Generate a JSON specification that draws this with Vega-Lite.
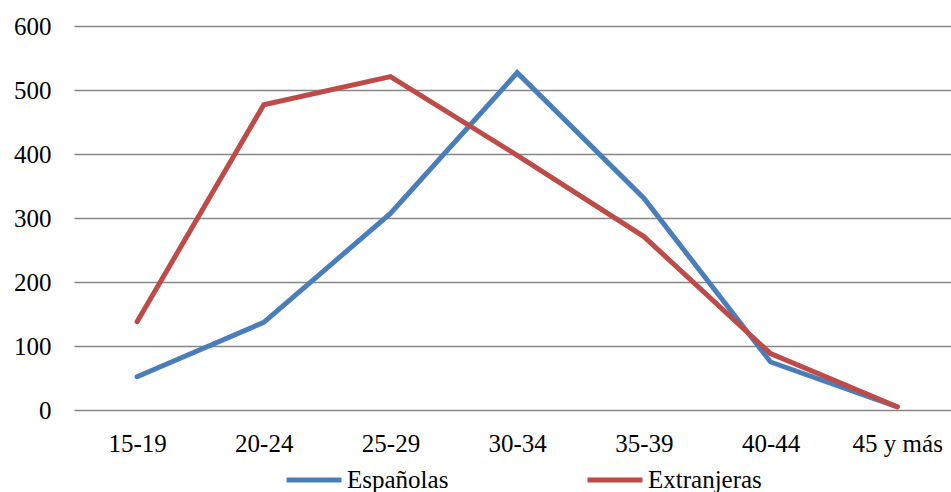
{
  "$schema": "https://vega.github.io/schema/vega-lite/v6.json",
  "autosize": {"type": "none"},
  "padding": {"left": 74, "top": 26, "right": 0, "bottom": 82},
  "width": 877,
  "height": 384,
  "background": "white",
  "config": {
    "font": "Liberation Serif",
    "view": {"stroke": null}
  },
  "data": {
    "values": [
      {"edad": "15-19", "grupo": "Españolas", "valor": 52},
      {"edad": "20-24", "grupo": "Españolas", "valor": 137},
      {"edad": "25-29", "grupo": "Españolas", "valor": 307},
      {"edad": "30-34", "grupo": "Españolas", "valor": 527},
      {"edad": "35-39", "grupo": "Españolas", "valor": 331},
      {"edad": "40-44", "grupo": "Españolas", "valor": 75},
      {"edad": "45 y más", "grupo": "Españolas", "valor": 5},
      {"edad": "15-19", "grupo": "Extranjeras", "valor": 138},
      {"edad": "20-24", "grupo": "Extranjeras", "valor": 477},
      {"edad": "25-29", "grupo": "Extranjeras", "valor": 521},
      {"edad": "30-34", "grupo": "Extranjeras", "valor": 398},
      {"edad": "35-39", "grupo": "Extranjeras", "valor": 271},
      {"edad": "40-44", "grupo": "Extranjeras", "valor": 88},
      {"edad": "45 y más", "grupo": "Extranjeras", "valor": 5}
    ]
  },
  "mark": {"type": "line", "strokeWidth": 5, "strokeCap": "round", "strokeJoin": "miter"},
  "encoding": {
    "x": {
      "field": "edad",
      "type": "ordinal",
      "sort": ["15-19", "20-24", "25-29", "30-34", "35-39", "40-44", "45 y más"],
      "scale": {"type": "point", "padding": 0.461, "align": 0.54},
      "axis": {
        "title": null,
        "labelAngle": 0,
        "domain": false,
        "ticks": false,
        "grid": false,
        "labelFont": "Liberation Serif",
        "labelFontSize": 25,
        "labelColor": "#000000",
        "labelPadding": 21
      }
    },
    "y": {
      "field": "valor",
      "type": "quantitative",
      "scale": {"domain": [0, 600], "nice": false},
      "axis": {
        "title": null,
        "values": [0, 100, 200, 300, 400, 500, 600],
        "domain": false,
        "ticks": false,
        "grid": true,
        "gridColor": "#868686",
        "gridWidth": 1.5,
        "gridOpacity": 1,
        "labelFont": "Liberation Serif",
        "labelFontSize": 25,
        "labelColor": "#000000",
        "labelPadding": 23
      }
    },
    "color": {
      "field": "grupo",
      "type": "nominal",
      "scale": {"domain": ["Españolas", "Extranjeras"], "range": ["#4A7EBB", "#BE4B48"]},
      "legend": {
        "title": null,
        "orient": "none",
        "direction": "horizontal",
        "legendX": 210,
        "legendY": 424,
        "symbolType": "stroke",
        "symbolSize": 3025,
        "symbolStrokeWidth": 5,
        "labelFont": "Liberation Serif",
        "labelFontSize": 25,
        "labelColor": "#000000",
        "labelOffset": 3,
        "columnPadding": 128
      }
    }
  }
}
